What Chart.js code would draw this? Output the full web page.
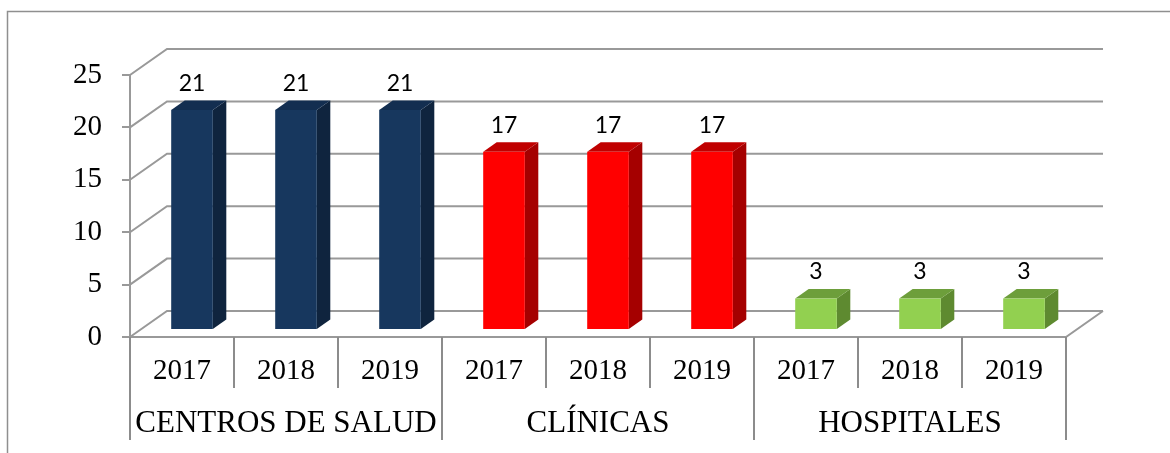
<!DOCTYPE html>
<html><head><meta charset="utf-8">
<script src="https://cdn.jsdelivr.net/npm/chart.js@4/dist/chart.umd.min.js"></script>
<style>html,body{margin:0;padding:0;background:#fff;overflow:hidden}#wrap{width:1170px;height:453px;position:relative}</style>
</head><body><div id="wrap"><canvas id="c" width="1170" height="453"></canvas></div>
<script>
const years = ['2017','2018','2019','2017','2018','2019','2017','2018','2019'];
const groups = ['CENTROS DE SALUD','CLÍNICAS','HOSPITALES'];
const groupSize = 3;
const values = [21,21,21,17,17,17,3,3,3];
const yTicks = [0,5,10,15,20,25];
const groupFront = ['#17375E','#FF0000','#92D050'];
const groupSide = ['#0F243E','#A50000','#5E8A30'];
const groupTop = ['#132E50','#C00000','#6D9E3B'];

const GRID = '#999999';
const WALL_DX = 37, WALL_DY = 26;   // depth of the back wall
const BAR_OX = 10, BAR_OY = 7;      // bar front-face offset into depth
const BAR_DX = 13.5, BAR_DY = 9.5;  // bar depth
const SERIF = '"Liberation Serif", "Times New Roman", serif';

const threeD = {
  id: 'threeD',
  beforeDraw(chart) {
    const ctx = chart.ctx;
    ctx.save();
    ctx.strokeStyle = '#8f8f8f';
    ctx.lineWidth = 1.5;
    ctx.strokeRect(7.5, 11.5, 1300, 600);
    ctx.restore();
  },
  beforeDatasetsDraw(chart) {
    const ctx = chart.ctx, ys = chart.scales.y;
    const {left, right, bottom} = chart.chartArea;
    ctx.save();
    ctx.strokeStyle = GRID; ctx.lineWidth = 2; ctx.lineCap = 'butt';
    yTicks.forEach(v => {
      const y = ys.getPixelForValue(v);
      ctx.beginPath();
      ctx.moveTo(left, y);
      ctx.lineTo(left + WALL_DX, y - WALL_DY);
      ctx.lineTo(right + WALL_DX, y - WALL_DY);
      ctx.stroke();
    });
    ctx.beginPath();
    ctx.moveTo(left, bottom);
    ctx.lineTo(right, bottom);
    ctx.lineTo(right + WALL_DX, bottom - WALL_DY);
    ctx.stroke();
    ctx.restore();
  },
  afterDatasetsDraw(chart) {
    const ctx = chart.ctx, xs = chart.scales.x;
    const {left, right, bottom} = chart.chartArea;
    const meta = chart.getDatasetMeta(0);
    ctx.save();
    meta.data.forEach((el, i) => {
      const g = Math.floor(i / groupSize);
      const w = el.width;
      const x1 = el.x - w / 2 + BAR_OX, x2 = el.x + w / 2 + BAR_OX;
      const yt = el.y - BAR_OY, yb = el.base - BAR_OY;
      ctx.fillStyle = groupSide[g];
      ctx.beginPath();
      ctx.moveTo(x2, yt); ctx.lineTo(x2 + BAR_DX, yt - BAR_DY);
      ctx.lineTo(x2 + BAR_DX, yb - BAR_DY); ctx.lineTo(x2, yb); ctx.closePath(); ctx.fill();
      ctx.fillStyle = groupTop[g];
      ctx.beginPath();
      ctx.moveTo(x1, yt); ctx.lineTo(x2, yt);
      ctx.lineTo(x2 + BAR_DX, yt - BAR_DY); ctx.lineTo(x1 + BAR_DX, yt - BAR_DY); ctx.closePath(); ctx.fill();
      ctx.fillStyle = groupFront[g];
      ctx.fillRect(x1, yt, x2 - x1, yb - yt);
      ctx.fillStyle = '#000';
      ctx.font = '23px Lato, "Open Sans", sans-serif';
      ctx.textAlign = 'center'; ctx.textBaseline = 'middle';
      ctx.fillText(String(values[i]), (x1 + x2) / 2, yt - BAR_DY - 17);
    });
    ctx.strokeStyle = '#8c8c8c'; ctx.lineWidth = 2;
    const n = years.length;
    for (let i = 0; i <= n; i++) {
      const x = i === 0 ? left : i === n ? right : (xs.getPixelForValue(i - 1) + xs.getPixelForValue(i)) / 2;
      ctx.beginPath();
      ctx.moveTo(x, bottom);
      ctx.lineTo(x, i % groupSize === 0 ? 440 : 388);
      ctx.stroke();
    }
    ctx.fillStyle = '#000';
    ctx.textAlign = 'center'; ctx.textBaseline = 'middle';
    ctx.font = '29px ' + SERIF;
    years.forEach((t, i) => ctx.fillText(t, xs.getPixelForValue(i), 371));
    ctx.font = '31px ' + SERIF;
    groups.forEach((t, g) => {
      const a = xs.getPixelForValue(g * groupSize), b = xs.getPixelForValue(g * groupSize + groupSize - 1);
      ctx.fillText(t, (a + b) / 2, 424);
    });
    ctx.restore();
  }
};

new Chart(document.getElementById('c'), {
  type: 'bar',
  data: {
    labels: years,
    datasets: [{
      data: values,
      backgroundColor: 'rgba(0,0,0,0)',
      borderWidth: 0,
      categoryPercentage: 1,
      barPercentage: 0.4
    }]
  },
  options: {
    responsive: false,
    animation: false,
    devicePixelRatio: 1,
    layout: {padding: {top: 75, right: 104, left: 0, bottom: 0}},
    plugins: {legend: {display: false}, tooltip: {enabled: false}},
    scales: {
      x: {
        ticks: {display: false},
        grid: {display: false},
        border: {display: false},
        afterFit(s) { s.height = 116; }
      },
      y: {
        min: 0, max: 25,
        afterBuildTicks(s) { s.ticks = yTicks.map(v => ({value: v})); },
        ticks: {color: '#000', padding: 20, font: {family: SERIF, size: 29}},
        grid: {drawOnChartArea: false, drawTicks: true, tickLength: 8, color: GRID, lineWidth: 2},
        border: {display: true, color: GRID, width: 2},
        afterFit(s) { s.width = 130; }
      }
    }
  },
  plugins: [threeD]
});
</script></body></html>
